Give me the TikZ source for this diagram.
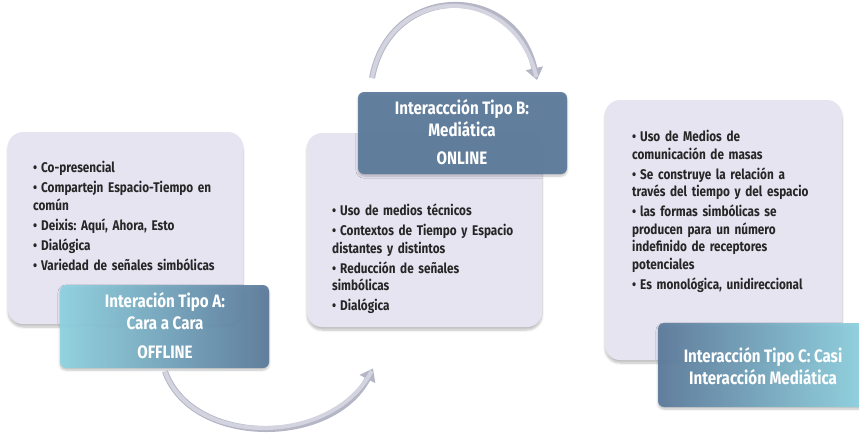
\documentclass[tikz,border=0pt]{standalone}
\usepackage{fontspec}
\setmainfont{Fira Sans}[FakeStretch=0.84]
\usetikzlibrary{arrows.meta,shadows.blur,calc}
\frenchspacing
\definecolor{lav}{HTML}{E6E4F1}
\definecolor{slate}{HTML}{5B7A9B}
\definecolor{teal}{HTML}{8FD4E2}
\definecolor{arrowc}{HTML}{D3D4E0}
\definecolor{arrowe}{HTML}{B4B6C6}
\newcommand\itm[1]{\par\hangindent=8pt\hangafter=1\noindent\makebox[8pt][l]{\textbullet}#1}
\tikzset{
  lavbox/.style={fill=lav, rounded corners=15pt, draw=none, blur shadow={shadow xshift=0pt, shadow yshift=-3pt, shadow blur steps=8, shadow opacity=25}},
  lblbox/.style={rounded corners=6pt, draw=none, opacity=0.93, blur shadow={shadow xshift=0pt, shadow yshift=-2pt, shadow blur steps=6, shadow opacity=25}},
  bodytxt/.style={anchor=north west, align=left, inner sep=0pt, font=\fontsize{14}{17.5}\selectfont\bfseries\frenchspacing, text=black!85},
  headtxt/.style={align=center, text=white, inner sep=0pt, font=\fontsize{18}{22}\selectfont\bfseries},
  bigarrow/.style={line width=6pt, draw=arrowe, -{Triangle[width=17pt,length=12pt]}},
  bigarrowin/.style={line width=4pt, draw=arrowc, shorten >=3pt}
}
\begin{document}
\begin{tikzpicture}[x=1pt,y=-1pt]
\useasboundingbox (0,0) rectangle (859,432);
% boxes
\path[lavbox] (8,132) rectangle (243,324);
\node[inner sep=0pt, minimum width=235pt, minimum height=192pt, anchor=north west] (boxA) at (8,132) {};
\path[lavbox] (307,133) rectangle (542,327);
\node[inner sep=0pt, minimum width=235pt, minimum height=194pt, anchor=north west] (boxB) at (307,133) {};
\path[lavbox] (605,100) rectangle (842,360);
\node[inner sep=0pt, minimum width=237pt, minimum height=260pt, anchor=north west] (boxC) at (605,100) {};
% body texts
\node[bodytxt, text width=210pt] (txtA) at (33,155) {%
\itm{Co-presencial}\vspace{2.5pt}
\itm{Compartejn Espacio-Tiempo en\\común}\vspace{2.5pt}
\itm{Deixis: Aquí, Ahora, Esto}\vspace{2.5pt}
\itm{Dialógica}\vspace{2.5pt}
\itm{Variedad de señales simbólicas}};
\node[bodytxt, text width=210pt] (txtB) at (332,198) {%
\itm{Uso de medios técnicos}\vspace{2.5pt}
\itm{Contextos de Tiempo y Espacio\\distantes y distintos}\vspace{2.5pt}
\itm{Reducción de señales\\simbólicas}\vspace{2.5pt}
\itm{Dialógica}};
\node[bodytxt, text width=215pt] (txtC) at (632,124) {%
\itm{Uso de Medios de\\comunicación de masas}\vspace{2.5pt}
\itm{Se construye la relación a\\través del tiempo y del espacio}\vspace{2.5pt}
\itm{las formas simbólicas se\\producen para un número\\indefinido de receptores\\potenciales}\vspace{2.5pt}
\itm{Es monológica, unidireccional}};
% labels
\path[lblbox, left color=teal, right color=slate] (60,285) rectangle (269,368);
\node[inner sep=0pt, minimum width=209pt, minimum height=83pt, anchor=north west] (lblA) at (60,285) {};
\node[headtxt] at (165,311) {Interación Tipo A:\\Cara a Cara};
\node[headtxt] at (165,352) {OFFLINE};
\path[lblbox, fill=slate] (358,92) rectangle (567,174);
\node[inner sep=0pt, minimum width=209pt, minimum height=82pt, anchor=north west] (lblB) at (358,92) {};
\node[headtxt] at (462,118) {Interaccción Tipo B:\\Mediática};
\node[headtxt] at (462,158) {ONLINE};
\path[lblbox, left color=slate, right color=teal] (658,323) rectangle (865,407);
\node[inner sep=0pt, minimum width=201pt, minimum height=84pt, anchor=north west] (lblC) at (658,323) {};
\node[headtxt] at (763,366) {Interacción Tipo C: Casi\\Interacción Mediática};
% arrows
\coordinate (a1s) at ($(lblA.south west)+(105,3)$);
\coordinate (a1e) at ($(boxB.south west)+(66,41)$);
\draw[bigarrow] (a1s) .. controls (192,447) and (332,447) .. (a1e);
\draw[bigarrowin] (a1s) .. controls (192,447) and (332,447) .. (a1e);
\coordinate (a2s) at ($(lblB.north west)+(14,-14)$);
\coordinate (a2e) at ($(boxC.north west)+(-68,-20)$);
\draw[bigarrow] (a2s) .. controls (390,-18) and (515,-18) .. (a2e);
\draw[bigarrowin] (a2s) .. controls (390,-18) and (515,-18) .. (a2e);
\end{tikzpicture}
\end{document}
